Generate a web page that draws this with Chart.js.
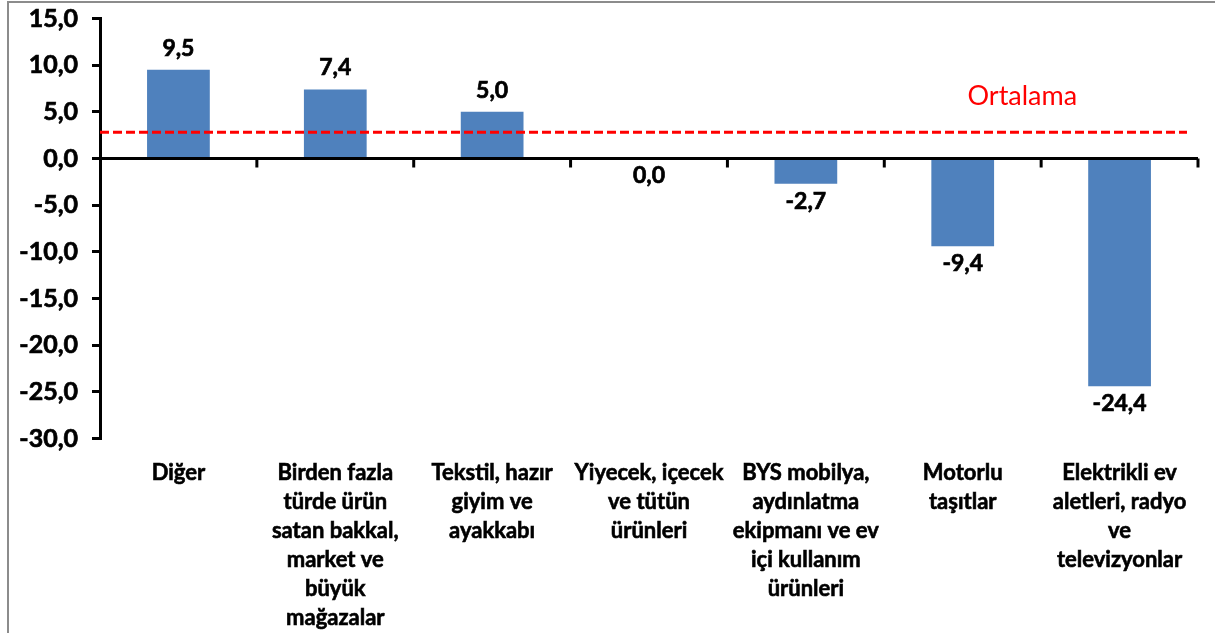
<!DOCTYPE html>
<html><head><meta charset="utf-8">
<script src="https://cdn.jsdelivr.net/npm/chart.js@4/dist/chart.umd.min.js"></script>
<style>
html,body{margin:0;padding:0;background:#fff;overflow:hidden}
#wrap{position:relative;width:1215px;height:633px}
#frame{position:absolute;left:7px;top:1px;width:1230px;height:650px;border:2px solid #8c8c8c;box-sizing:border-box;pointer-events:none}
canvas{position:absolute;left:0;top:0}
</style></head><body>
<div id="wrap"><canvas id="c" width="1215" height="633"></canvas><div id="frame"></div></div>
<script>
const categories = [
  ["Diğer"],
  ["Birden fazla", "türde ürün", "satan bakkal,", "market ve", "büyük", "mağazalar"],
  ["Tekstil, hazır", "giyim ve", "ayakkabı"],
  ["Yiyecek, içecek", "ve tütün", "ürünleri"],
  ["BYS mobilya,", "aydınlatma", "ekipmanı ve ev", "içi kullanım", "ürünleri"],
  ["Motorlu", "taşıtlar"],
  ["Elektrikli ev", "aletleri, radyo", "ve", "televizyonlar"]
];
const values = [9.5, 7.4, 5.0, 0.0, -2.7, -9.4, -24.4];
const averageValue = 2.8;
const averageLabel = "Ortalama";
const yMin = -30, yMax = 15, yStep = 5;

const fmt = v => v.toFixed(1).replace('.', ',');
const FONT = 'Lato, "Open Sans", sans-serif';

const overlay = {
  id: 'overlay',
  afterDatasetsDraw(chart) {
    const ctx = chart.ctx, x = chart.scales.x, y = chart.scales.y, area = chart.chartArea;
    const y0 = y.getPixelForValue(0);
    ctx.save();
    ctx.strokeStyle = '#000'; ctx.lineWidth = 3;
    ctx.beginPath(); ctx.moveTo(area.left, y0); ctx.lineTo(area.right, y0); ctx.stroke();
    const n = categories.length;
    const step = x.getPixelForValue(1) - x.getPixelForValue(0);
    for (let i = 0; i < n; i++) {
      const bx = x.getPixelForValue(i) + step / 2;
      ctx.beginPath(); ctx.moveTo(bx, y0); ctx.lineTo(bx, y0 + 9); ctx.stroke();
    }
    const ya = y.getPixelForValue(averageValue);
    ctx.strokeStyle = '#ff0000'; ctx.lineWidth = 3; ctx.setLineDash([9, 4]);
    ctx.beginPath(); ctx.moveTo(area.left, ya); ctx.lineTo(area.right - 11, ya); ctx.stroke();
    ctx.setLineDash([]);
    ctx.fillStyle = '#ff0000'; ctx.font = '27px ' + FONT;
    ctx.textAlign = 'center'; ctx.textBaseline = 'alphabetic';
    ctx.fillText(averageLabel, x.getPixelForValue(5.38), y.getPixelForValue(averageValue + 2.98));
    ctx.fillStyle = '#000'; ctx.strokeStyle = '#000'; ctx.lineWidth = 0.7;
    ctx.font = 'bold 23px ' + FONT;
    const meta = chart.getDatasetMeta(0);
    meta.data.forEach((bar, i) => {
      const v = values[i];
      let ty;
      if (v > 0) { ctx.textBaseline = 'alphabetic'; ty = bar.y - 14; }
      else { ctx.textBaseline = 'top'; ty = bar.y + 6; }
      ctx.fillText(fmt(v), bar.x, ty);
      ctx.strokeText(fmt(v), bar.x, ty);
    });
    ctx.restore();
  }
};

new Chart(document.getElementById('c'), {
  type: 'bar',
  data: {
    labels: categories,
    datasets: [{ data: values, backgroundColor: '#4f81bd', borderWidth: 0, barPercentage: 0.4, categoryPercentage: 1.0 }]
  },
  options: {
    responsive: false, animation: false, devicePixelRatio: 1,
    layout: { padding: { top: 18.5, right: 17, left: 0, bottom: 0 } },
    plugins: { legend: { display: false }, tooltip: { enabled: false } },
    scales: {
      x: {
        grid: { display: false, drawTicks: false },
        border: { display: false },
        ticks: { color: '#000', textStrokeColor: '#000', textStrokeWidth: 0.6, font: { family: FONT, size: 22, weight: 'bold', lineHeight: 1.32 }, padding: 20, maxRotation: 0, autoSkip: false },
        afterFit(s) { s.height = 194.5; }
      },
      y: {
        min: yMin, max: yMax,
        grid: { drawOnChartArea: false, drawTicks: true, tickLength: 8, color: '#000', lineWidth: 3 },
        border: { display: true, color: '#000', width: 3 },
        ticks: { stepSize: yStep, color: '#000', textStrokeColor: '#000', textStrokeWidth: 0.7, padding: 14, font: { family: FONT, size: 25, weight: 'bold' }, callback: v => fmt(v) },
        afterFit(s) { s.width = 100; s.paddingTop = 0; s.paddingBottom = 0; }
      }
    }
  },
  plugins: [overlay]
});
</script>
</body></html>
